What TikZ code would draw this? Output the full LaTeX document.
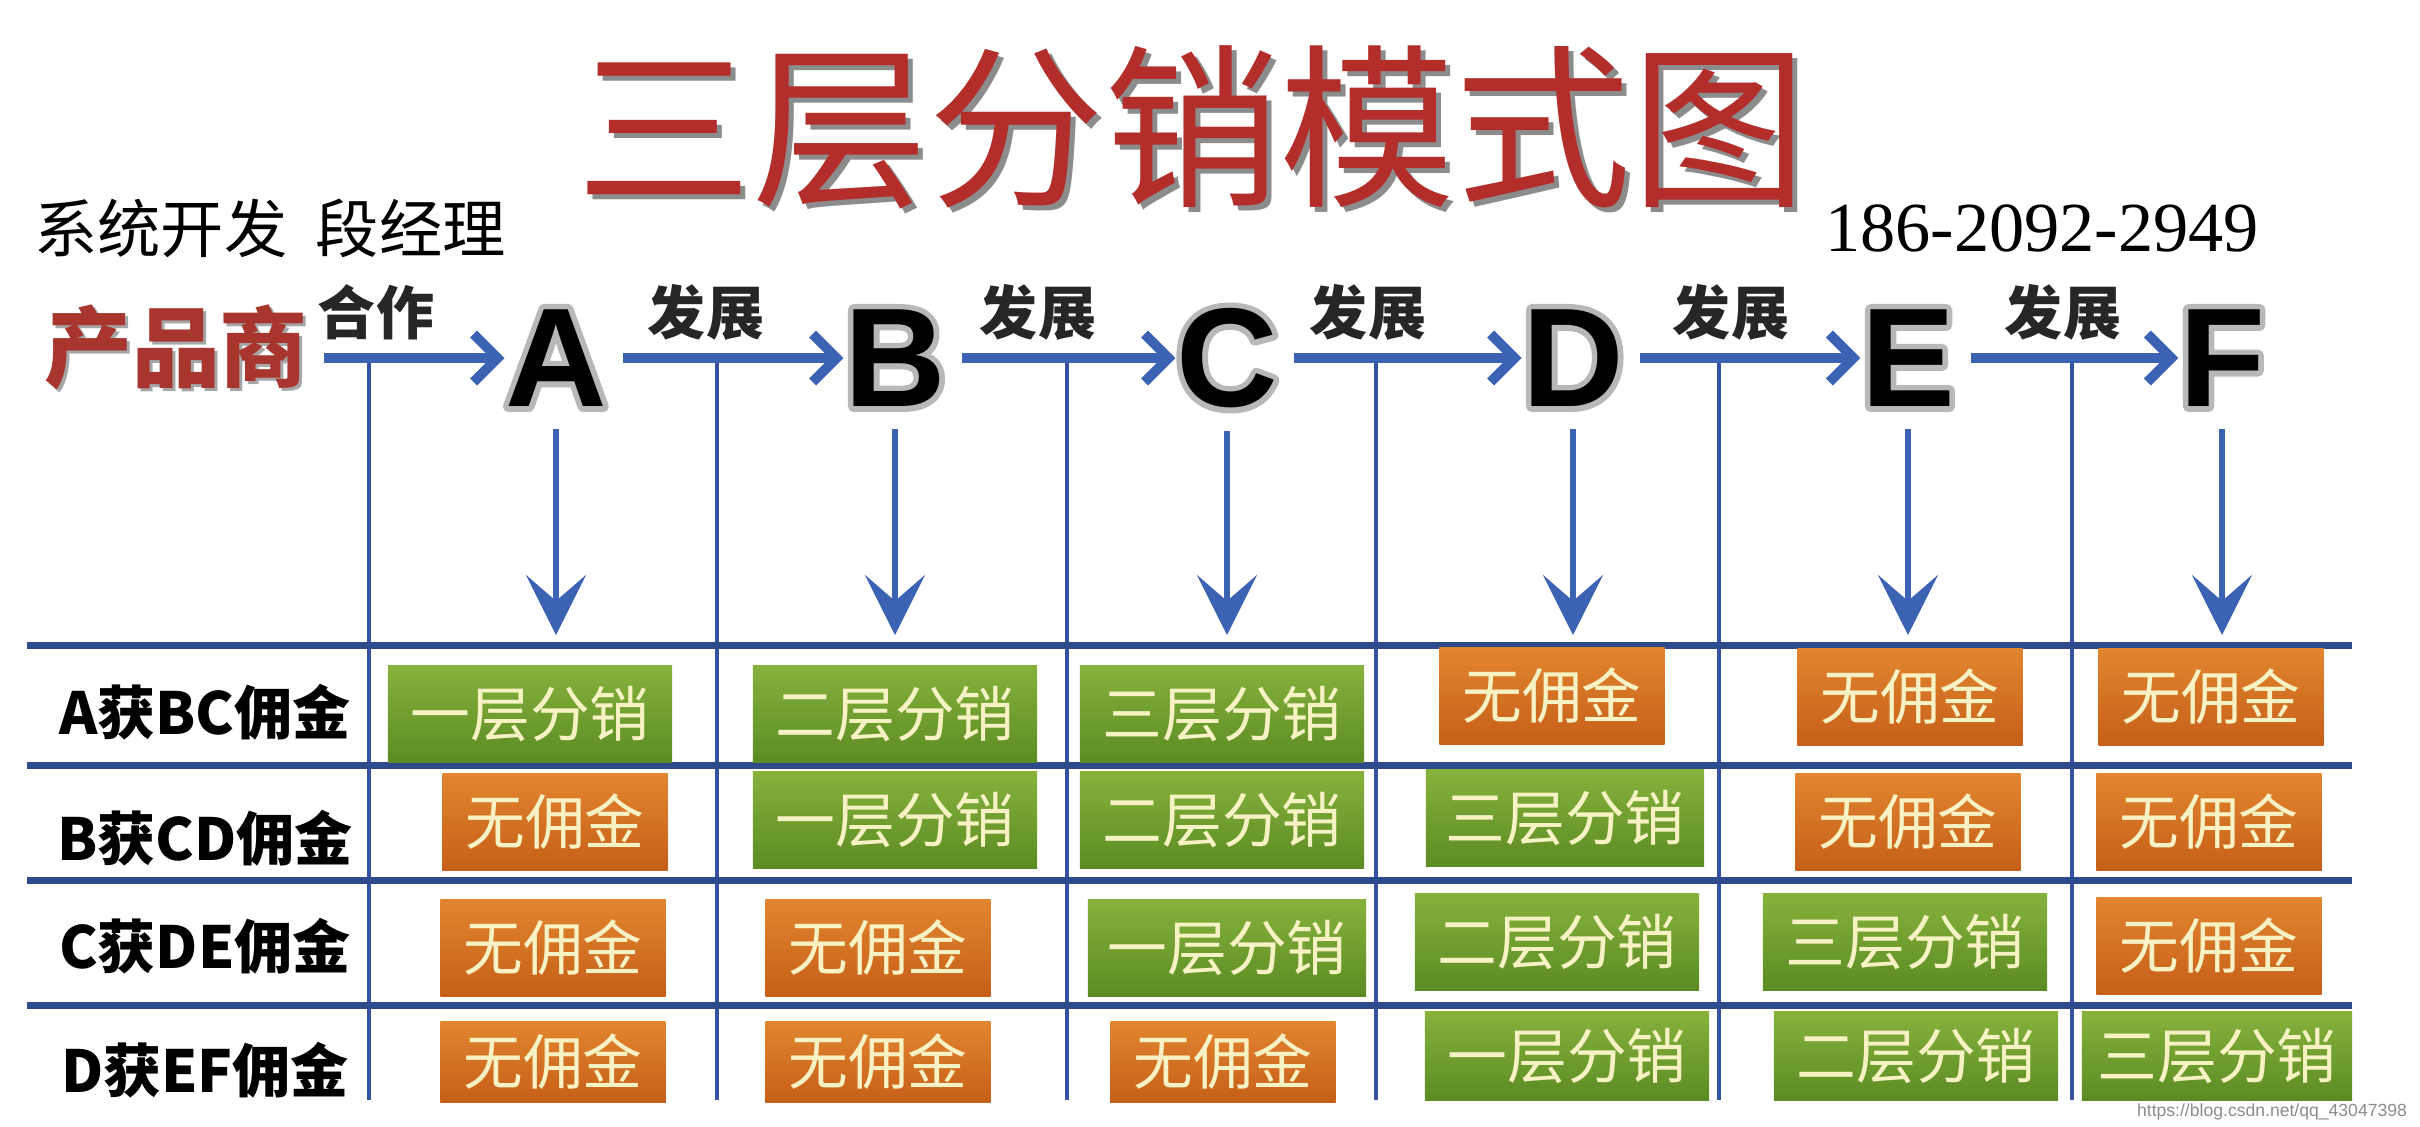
\documentclass[tikz,border=0pt]{standalone}
\usepackage{fontspec}
\setmainfont{Liberation Sans}
\newfontfamily\cjk{Noto Sans CJK SC}
\newfontfamily\phonefont{Liberation Serif}
\usetikzlibrary{arrows.meta,positioning}

\definecolor{titlered}{HTML}{B32E2A}
\definecolor{makerred}{HTML}{A8352E}
\definecolor{arrowblue}{HTML}{3C62B4}
\definecolor{gridblue}{HTML}{3553A5}
\definecolor{rowblue}{HTML}{2C4A8C}
\definecolor{boxgreenT}{HTML}{86B23C}
\definecolor{boxgreenB}{HTML}{5B8C23}
\definecolor{boxorangeT}{HTML}{E2852F}
\definecolor{boxorangeB}{HTML}{C65F18}
\definecolor{boxtext}{HTML}{F6F2C4}

% grey halo behind the big letters: stroked text
\newcommand\halo[1]{\special{pdf:literal direct 2 Tr 3.2 w 1 j 0.72 0.72 0.72 RG 0.72 0.72 0.72 rg}#1\special{pdf:literal direct 0 Tr}}

\tikzset{
  titletext/.style={inner sep=0pt, text=titlered, font=\cjk\fontsize{50}{50}\selectfont},
  titleshade/.style={titletext, text=black!45},
  note/.style={inner sep=0pt, font=\cjk\fontsize{18}{18}\selectfont},
  phone/.style={inner sep=0pt, font=\phonefont\fontsize{20}{20}\selectfont},
  maker/.style={inner sep=0pt, text=makerred, font=\cjk\bfseries\fontsize{25}{25}\selectfont},
  makershade/.style={maker, text=black!35},
  arrowlabel/.style={inner sep=0pt, text=black!85, font=\cjk\bfseries\fontsize{16.5}{16.5}\selectfont},
  letter/.style={inner sep=0pt, font=\bfseries\fontsize{40}{40}\selectfont},
  harrow/.style={draw=arrowblue, line width=2.8pt, shorten <=1.5mm,
    -{Straight Barb[length=2.4mm,width=4.8mm]}},
  darrow/.style={draw=arrowblue, line width=1.5pt, shorten <=2.2mm,
    -{Stealth[length=6mm,width=6mm,inset=2.6mm]}},
  gridline/.style={draw=gridblue, line width=1.1pt},
  rowline/.style={draw=rowblue, line width=2pt},
  rowlabel/.style={inner sep=0pt, font=\cjk\bfseries\fontsize{16.5}{16.5}\selectfont},
  gbox/.style={inner sep=0pt, minimum width=2.84cm, minimum height=0.96cm,
    top color=boxgreenT, bottom color=boxgreenB, text=boxtext,
    font=\cjk\fontsize{17}{17}\selectfont},
  obox/.style={gbox, minimum width=2.25cm, top color=boxorangeT, bottom color=boxorangeB},
  mark url/.style={inner sep=0pt, text=black!45, font=\fontsize{5}{5}\selectfont}
}

\begin{document}
\begin{tikzpicture}[x=0.01cm, y=-0.01cm]
  \useasboundingbox (0,0) rectangle (2420,1126);

  % heading
  \node[titleshade] (titles) at (1197,132) {三层分销模式图};
  \node[titletext] (title) at (1192,127) {三层分销模式图};
  \node[note] (dev) at (270,228) {系统开发\hspace{0.45em}段经理};
  \node[phone] (tel) at (2042,228) {186-2092-2949};

  % chain of dealers
  \node[makershade] (makers) at (179,350) {产品商};
  \node[maker] (maker) at (176,347) {产品商};
  \node[letter] (A) at (556,358) {\halo{A}};
  \node[letter] (B) at (895,358) {\halo{B}};
  \node[letter] (C) at (1227,358) {\halo{C}};
  \node[letter] (D) at (1573,358) {\halo{D}};
  \node[letter] (E) at (1908,358) {\halo{E}};
  \node[letter] (F) at (2222,358) {\halo{F}};
  \node[letter] (Ain) at (A) {A};
  \node[letter] (Bin) at (B) {B};
  \node[letter] (Cin) at (C) {C};
  \node[letter] (Din) at (D) {D};
  \node[letter] (Ein) at (E) {E};
  \node[letter] (Fin) at (F) {F};

  % grid
  \draw[gridline] (369,358) -- (369,1100);
  \draw[gridline] (717,358) -- (717,1100);
  \draw[gridline] (1067,358) -- (1067,1100);
  \draw[gridline] (1376,358) -- (1376,1100);
  \draw[gridline] (1719,358) -- (1719,1100);
  \draw[gridline] (2072,358) -- (2072,1100);
  \draw[rowline] (27,645) -- (2352,645);
  \draw[rowline] (27,765) -- (2352,765);
  \draw[rowline] (27,880) -- (2352,880);
  \draw[rowline] (27,1005) -- (2352,1005);

  \draw[harrow] (maker.east |- A) -- (A);
  \draw[harrow] (A) -- (B);
  \draw[harrow] (B) -- (C);
  \draw[harrow] (C) -- (D);
  \draw[harrow] (D) -- (E);
  \draw[harrow] (E) -- (F);
  \node[arrowlabel] (coop) at (376,312) {合作};
  \node[arrowlabel] (ab) at (706,312) {发展};
  \node[arrowlabel] (bc) at (1038,312) {发展};
  \node[arrowlabel] (cd) at (1368,312) {发展};
  \node[arrowlabel] (de) at (1731,312) {发展};
  \node[arrowlabel] (ef) at (2063,312) {发展};

  \coordinate (top) at (0,635);
  \draw[darrow] (A) -- (A |- top);
  \draw[darrow] (B) -- (B |- top);
  \draw[darrow] (C) -- (C |- top);
  \draw[darrow] (D) -- (D |- top);
  \draw[darrow] (E) -- (E |- top);
  \draw[darrow] (F) -- (F |- top);

  % rows
  \node[rowlabel] (rowA) at (205,712) {A获BC佣金};
  \node[rowlabel] (rowB) at (205,838) {B获CD佣金};
  \node[rowlabel] (rowC) at (205,946) {C获DE佣金};
  \node[rowlabel] (rowD) at (205,1070) {D获EF佣金};

  \node[gbox] (a1) at (530,714) {一层分销};
  \node[gbox] (b1) at (895,714) {二层分销};
  \node[gbox] (c1) at (1222,714) {三层分销};
  \node[obox] (d1) at (1552,696) {无佣金};
  \node[obox] (e1) at (1910,697) {无佣金};
  \node[obox] (f1) at (2211,697) {无佣金};

  \node[obox] (a2) at (555,822) {无佣金};
  \node[gbox] (b2) at (895,820) {一层分销};
  \node[gbox] (c2) at (1222,820) {二层分销};
  \node[gbox, minimum width=2.78cm] (d2) at (1565,818) {三层分销};
  \node[obox] (e2) at (1908,822) {无佣金};
  \node[obox] (f2) at (2209,822) {无佣金};

  \node[obox] (a3) at (553,948) {无佣金};
  \node[obox] (b3) at (878,948) {无佣金};
  \node[gbox, minimum width=2.78cm] (c3) at (1227,948) {一层分销};
  \node[gbox] (d3) at (1557,942) {二层分销};
  \node[gbox] (e3) at (1905,942) {三层分销};
  \node[obox] (f3) at (2209,946) {无佣金};

  \node[obox, minimum height=0.8cm] (a4) at (553,1062) {无佣金};
  \node[obox, minimum height=0.8cm] (b4) at (878,1062) {无佣金};
  \node[obox, minimum height=0.8cm] (c4) at (1223,1062) {无佣金};
  \node[gbox, minimum height=0.88cm] (d4) at (1567,1056) {一层分销};
  \node[gbox, minimum height=0.88cm] (e4) at (1916,1056) {二层分销};
  \node[gbox, minimum height=0.88cm, minimum width=2.7cm] (f4) at (2217,1056) {三层分销};

  \node[mark url] (url) at (2272,1112) {https://blog.csdn.net/qq\_43047398};
\end{tikzpicture}
\end{document}
